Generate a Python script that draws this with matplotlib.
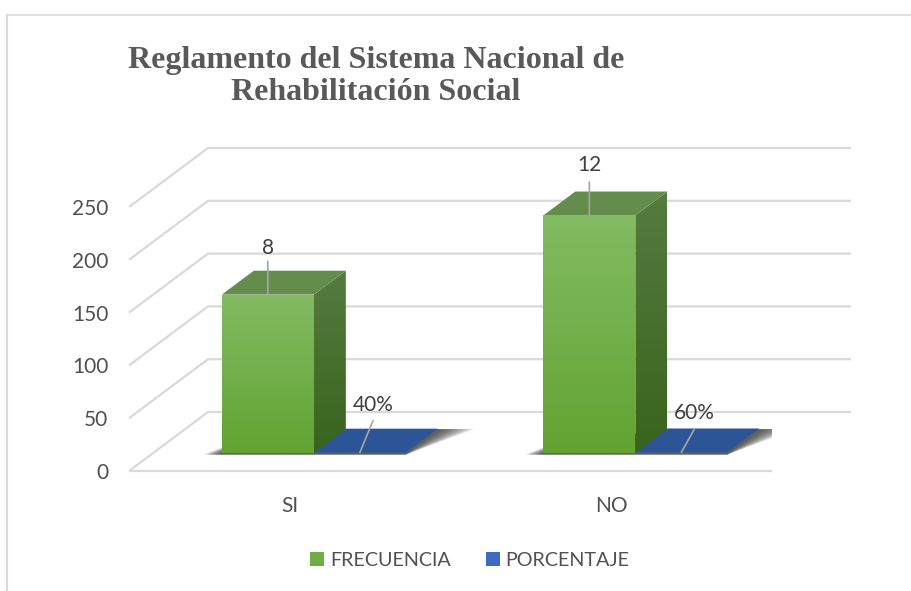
import numpy as np
import matplotlib
matplotlib.use('Agg')
import matplotlib.pyplot as plt
from matplotlib.lines import Line2D
from matplotlib.patches import Patch, Polygon

categories = ['SI', 'NO']
frecuencia = [150, 225]
porcentaje = [0.4, 0.6]
frecuencia_labels = ['8', '12']
porcentaje_labels = ['40%', '60%']
y_ticks = [0, 50, 100, 150, 200, 250]
title = 'Reglamento del Sistema Nacional de\nRehabilitación Social'

# depth of the floor, in axis units
DX = 79 / 321.5
DY = 59 / 1.056
BAR_W = 92 / 321.5
D0, D1 = 0.305, 0.71

plt.rcParams['font.family'] = ['Lato', 'DejaVu Sans']
text_col = '#595959'
grid_col = '#D9D9D9'


def pt(x, y, d):
    return (x + d * DX, y + d * DY)


def gradient_face(ax, verts, top, bottom, zorder):
    # vertical gradient clipped to the face
    c0, c1 = matplotlib.colors.to_rgb(top), matplotlib.colors.to_rgb(bottom)
    ramp = np.linspace(0, 1, 128)[:, None, None]
    img = (1 - ramp) * np.array(c0)[None, None, :] + ramp * np.array(c1)[None, None, :]
    xs, ys = zip(*verts)
    im = ax.imshow(img, extent=(min(xs), max(xs), min(ys), max(ys)), aspect='auto',
                   origin='upper', zorder=zorder, interpolation='bilinear')
    patch = Polygon(verts, closed=True, transform=ax.transData, fc='none', ec='none')
    ax.add_patch(patch)
    im.set_clip_path(patch)


fig = plt.figure(figsize=(9.12, 5.91), dpi=100)
fig.add_artist(Line2D([7.5 / 912, 7.5 / 912], [0, 1 - 15 / 591], color=grid_col, lw=1.5))
fig.add_artist(Line2D([7.5 / 912, 1], [1 - 15 / 591, 1 - 15 / 591], color=grid_col, lw=1.2))

# 0 at y=471 px and 300 at y=154 px
ax = fig.add_axes([129 / 912, 120 / 591, 643 / 912, 316.8 / 591])
ax.set_xlim(0, 2)
ax.set_ylim(0, 300)
for s in ax.spines.values():
    s.set_visible(False)
ax.patch.set_alpha(0)

for v in y_ticks:
    a = pt(0, v, 0)
    b = pt(0, v, 1)
    c = pt(2, v, 1)
    ax.plot([a[0], b[0], c[0]], [a[1], b[1], c[1]], color=grid_col, lw=1.6, zorder=1,
            clip_on=False, solid_joinstyle='miter', solid_capstyle='butt')
ax.plot([0, 2], [0, 0], color=grid_col, lw=1.6, zorder=1, clip_on=False, solid_capstyle='butt')

for i, cat in enumerate(categories):
    x0 = i + 0.5 - BAR_W
    x1 = i + 0.5
    x2 = i + 0.5 + BAR_W

    # soft shadow below the bars
    for k in range(8):
        g = (8 - k) * 0.007
        sh = [pt(x0 - g * 1.0, -1.5, D0), pt(x2, -1.5, D0),
              pt(x2 + g * 2.0, 0, D1), pt(x1, 0, D1), pt(x0, 0, D0 + 0.05 + g * 2.5)]
        ax.add_patch(Polygon(sh, closed=True, fc='#303030', ec='none', alpha=0.16, zorder=2))

    # PORCENTAJE, nearly flat
    h2 = porcentaje[i]
    ax.add_patch(Polygon([pt(x1, h2, D0), pt(x2, h2, D0), pt(x2, h2, D1), pt(x1, h2, D1)],
                         closed=True, fc='#2C5597', ec='none', zorder=3))

    # FRECUENCIA box
    h = frecuencia[i]
    front = [pt(x0, 0, D0), pt(x1, 0, D0), pt(x1, h, D0), pt(x0, h, D0)]
    side = [pt(x1, 0, D0), pt(x1, 0, D1), pt(x1, h, D1), pt(x1, h, D0)]
    top = [pt(x0, h, D0), pt(x1, h, D0), pt(x1, h, D1), pt(x0, h, D1)]
    gradient_face(ax, side, '#567B40', '#38641C', 4)
    ax.add_patch(Polygon(top, closed=True, fc='#648C4C', ec='none', zorder=5))
    gradient_face(ax, front, '#83BB62', '#62A332', 6)

    # data labels with leader lines
    cx, cy = pt((x0 + x1) / 2, h, D0)
    ax.annotate(frecuencia_labels[i], xy=(cx, cy), xytext=(0, 26 + 3 * i), textcoords='offset points',
                ha='center', va='bottom', fontsize=15, color='#404040', zorder=8,
                annotation_clip=False)
    ax.annotate('', xy=(cx, cy), xytext=(0, 24), textcoords='offset points', zorder=7,
                arrowprops=dict(arrowstyle='-', color='#A6A6A6', lw=1.2, shrinkA=0, shrinkB=0))
    bx, by = pt((x1 + x2) / 2, h2, D0)
    rise = 17 if i == 1 else 23
    ax.annotate(porcentaje_labels[i], xy=(bx, by), xytext=(9.5, rise + 4), textcoords='offset points',
                ha='center', va='bottom', fontsize=15, color='#404040', zorder=8,
                annotation_clip=False)
    ax.annotate('', xy=(bx, by), xytext=(9.5, rise), textcoords='offset points', zorder=7,
                arrowprops=dict(arrowstyle='-', color='#A6A6A6', lw=1.2, shrinkA=0, shrinkB=0))

ax.set_yticks(y_ticks)
ax.set_xticks([i + 0.5 for i in range(len(categories))])
ax.set_xticklabels(categories)
ax.tick_params(axis='y', length=0, pad=15, labelsize=15, labelcolor='#505050')
ax.tick_params(axis='x', length=0, pad=18, labelsize=15, labelcolor='#505050')

fig.text(376 / 912, 1 - 76.5 / 591, title, ha='center', va='center', fontsize=23, fontweight='bold',
         family='Liberation Serif', color=text_col, linespacing=1.14)

handles = [Patch(fc='#6FAD47', ec='none', label='FRECUENCIA'),
           Patch(fc='#3D6BC0', ec='none', label='PORCENTAJE')]
fig.legend(handles=handles, loc='center', bbox_to_anchor=(470 / 912, 1 - 560 / 591), ncol=2,
           frameon=False, fontsize=14.2, labelcolor='#505050', handlelength=0.72, handleheight=0.72,
           handletextpad=0.3, columnspacing=1.75)

fig.savefig('out.png', dpi=100)
